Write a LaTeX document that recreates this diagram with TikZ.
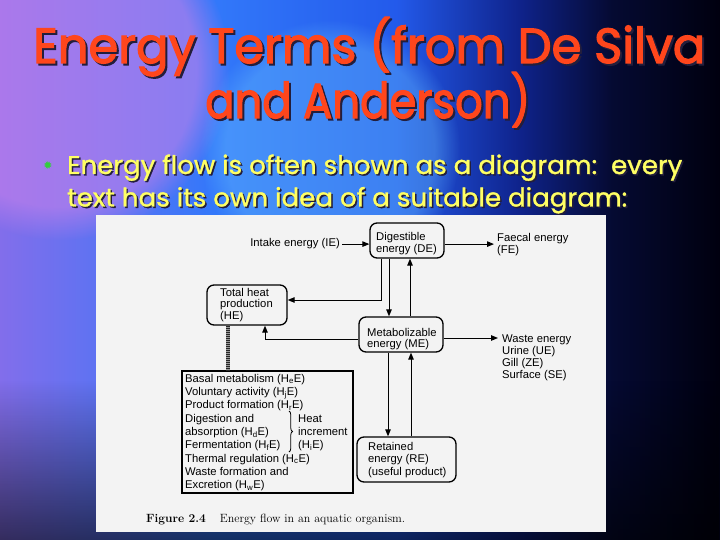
\documentclass[tikz,border=0pt]{standalone}
\usepackage{fontspec}
\usepackage{graphicx}
\usetikzlibrary{arrows.meta,decorations.pathreplacing,fadings}
\newfontfamily\diagfont{Liberation Sans}
\newfontfamily\titlefont{Poppins}[FakeBold=2.5]
\newfontfamily\bulfont{Poppins}[FakeBold=1.2]
\newfontfamily\symfont{DejaVu Sans}
\definecolor{titlered}{RGB}{255,70,28}
\definecolor{bullyellow}{RGB}{255,255,100}
\definecolor{bulletgreen}{RGB}{50,205,60}
\definecolor{shadowcol}{RGB}{35,30,60}
\definecolor{panelgray}{RGB}{243,243,243}
\definecolor{bgA}{RGB}{130,110,235}
\definecolor{bgB}{RGB}{50,120,250}
\definecolor{bgC}{RGB}{35,90,235}
\definecolor{bgD}{RGB}{15,35,140}
\definecolor{bgE}{RGB}{5,10,50}
\definecolor{bgF}{RGB}{0,0,15}
\definecolor{glowpink}{RGB}{205,130,235}
\definecolor{glowcyan}{RGB}{110,200,255}
\pgfdeclarehorizontalshading{slidebg}{100bp}{color(0bp)=(bgA); color(25bp)=(bgA); color(40bp)=(bgB); color(52.5bp)=(bgC); color(61bp)=(bgD); color(67.5bp)=(bgE); color(75bp)=(bgF); color(100bp)=(bgF)}
\newcommand\txtlines[1]{\begin{tabular}[t]{@{}l@{}}#1\end{tabular}}
\newcommand\withshadow[2]{\rlap{\raisebox{-#1}{\hspace{#1}\textcolor{shadowcol}{#2}}}#2}
\newcommand\titleA{\resizebox{672bp}{46bp}{\titlefont Energy Terms (from De Silva}}
\newcommand\titleB{\resizebox{325bp}{46bp}{\titlefont and Anderson)}}
\newcommand\bulA{\resizebox{615bp}{19.5bp}{\bulfont Energy flow is often shown as a diagram:\ \ every}}
\newcommand\bulB{\resizebox{560bp}{19.5bp}{\bulfont text has its own idea of a suitable diagram:}}
\newcommand\twolines[3]{\vtop{\baselineskip=#1\lineskiplimit=-1000bp\lineskip=0pt\hbox{#2}\hbox{#3}}}
\begin{document}
\begin{tikzpicture}[x=1bp,y=-1bp,
  fbox/.style={draw, line width=1.3bp, rounded corners=7bp, inner sep=0},
  sqbox/.style={draw, line width=1.3bp, inner sep=0},
  lbl/.style={inner sep=0, anchor=base west, font=\diagfont\fontsize{11.3}{12}\selectfont},
  arr/.style={line width=1bp, -{Triangle[length=7bp,width=5.5bp]}},
  hatch/.style={line width=4.5bp},
  slidetxt/.style={inner sep=0, anchor=base west}]
\useasboundingbox (0,0) rectangle (720,540);
% background
\shade[shading=slidebg] (0,0) rectangle (720,540);
\fill[glowpink, path fading=circle with fuzzy edge 20 percent, opacity=0.55] (60,70) circle[radius=170];
\fill[glowcyan, path fading=circle with fuzzy edge 20 percent, opacity=0.35] (330,150) circle[radius=130];
\fill[black, path fading=north, opacity=0.6] (0,380) rectangle (720,540);
% title (two lines, one node)
\node[slidetxt, text=titlered] (title) at (33,63) {\twolines{55bp}{\withshadow{2bp}{\titleA}}{\hspace{172bp}\withshadow{2bp}{\titleB}}};
% bullet text (two lines, one node)
\node[inner sep=0, text=bulletgreen, font=\symfont\fontsize{11}{11}\selectfont] (bul) at (48,166) {✹};
\node[slidetxt, text=bullyellow] (btxt) at (67,174) {\twolines{32.5bp}{\withshadow{1.5bp}{\bulA}}{\withshadow{1.5bp}{\bulB}}};
% figure panel
\fill[panelgray] (96,215) rectangle (606,532);
% boxes
\node[fbox, minimum width=74bp, minimum height=35bp] (de) at (407,240.5) {};
\node[fbox, minimum width=80bp, minimum height=40bp] (he) at (247,305) {};
\node[fbox, minimum width=84bp, minimum height=35bp] (me) at (401,334.5) {};
\node[fbox, minimum width=99bp, minimum height=45bp] (re) at (406.5,459.5) {};
\node[sqbox, minimum width=171bp, minimum height=122bp] (hb) at (267.5,432) {};
% texts
\node[lbl] (det) at (376,241) {\txtlines{Digestible\\energy (DE)}};
\node[lbl] (het) at (220,296) {\txtlines{Total heat\\production\\(HE)}};
\node[lbl] (met) at (367,336) {\txtlines{Metabolizable\\energy (ME)}};
\node[lbl, font=\diagfont\fontsize{11.3}{12.8}\selectfont] (ret) at (368,450) {\txtlines{Retained\\energy (RE)\\(useful product)}};
\node[lbl, anchor=base east, inner sep=2bp] (ie) at (342,247) {Intake energy (IE)};
\node[lbl] (fe) at (497,242) {\txtlines{Faecal energy\\(FE)}};
\node[lbl, font=\diagfont\fontsize{11.3}{12.3}\selectfont] (we) at (502,342) {\txtlines{Waste energy\\Urine (UE)\\Gill (ZE)\\Surface (SE)}};
\node[lbl, font=\diagfont\fontsize{11.3}{13.4}\selectfont] (hbt) at (185,382) {\txtlines{Basal metabolism (H\textsubscript{e}E)\\Voluntary activity (H\textsubscript{j}E)\\Product formation (H\textsubscript{r}E)\\Digestion and\\absorption (H\textsubscript{d}E)\\Fermentation (H\textsubscript{f}E)\\Thermal regulation (H\textsubscript{c}E)\\Waste formation and\\Excretion (H\textsubscript{w}E)}};
\node[lbl, font=\diagfont\fontsize{11.3}{13.4}\selectfont] (hit) at (298,422) {\txtlines{Heat\\increment\\(H\textsubscript{i}E)}};
% caption
\node[inner sep=0, anchor=base west, font=\fontsize{12}{14}\selectfont] (cap) at (146,522) {\textbf{Figure 2.4}\hspace{14bp}Energy flow in an aquatic organism.};
% helper coordinates
\coordinate (j1) at (381,300);
\coordinate (j2) at (265,339);
\coordinate (xdm) at (389,0);
\coordinate (xmd) at (410,0);
\coordinate (xmr) at (388,0);
\coordinate (xrm) at (411,0);
\coordinate (wy) at (0,338);
\coordinate (xh) at (228,0);
\coordinate (brt) at (289,411);
\coordinate (brb) at (289,452);
% connectors
\draw[arr] (ie.east) -- (ie.east -| de.west);
\draw[arr] (de.east |- ie.east) -- ([xshift=-3bp]fe.west |- ie.east);
\draw[arr] (de.south -| j1) -- (j1) -- (he.east |- j1);
\draw[arr] (de.south -| xdm) -- (me.north -| xdm);
\draw[arr] (me.north -| xmd) -- (de.south -| xmd);
\draw[arr] (me.east |- wy) -- ([xshift=-4bp]we.west |- wy);
\draw[arr] (me.west |- j2) -- (j2) -- (he.south -| j2);
\draw[arr] (me.south -| xmr) -- (re.north -| xmr);
\draw[arr] (re.north -| xrm) -- (me.south -| xrm);
\draw[hatch, black!40] (he.south -| xh) -- (hb.north -| xh);
\draw[hatch, black!85, dash pattern=on 0.8bp off 1.2bp] (he.south -| xh) -- (hb.north -| xh);
\draw[line width=0.8bp, decorate, decoration={brace, amplitude=3.5bp}] (brt) -- (brb);
\end{tikzpicture}
\end{document}
